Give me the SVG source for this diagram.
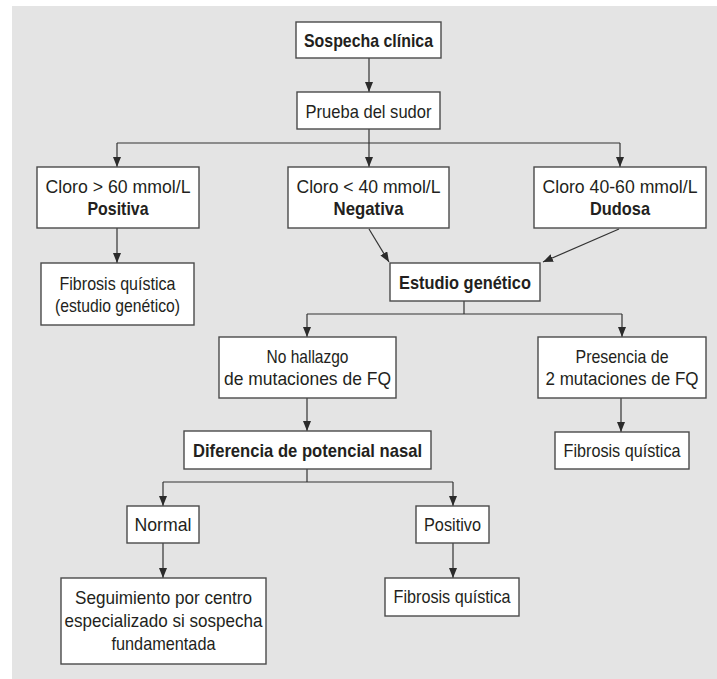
<svg xmlns="http://www.w3.org/2000/svg" width="717" height="679" viewBox="0 0 717 679">
<defs>
<marker id="ah" markerUnits="userSpaceOnUse" markerWidth="10" markerHeight="12" refX="10" refY="4" orient="auto">
<path d="M0,0 L10,4 L0,8 Z" fill="#2b2b2b"/>
</marker>
<style>
.bx{fill:#ffffff;stroke:#4a4a4a;stroke-width:1.4}
.t{font-family:"Liberation Sans",Arial,sans-serif;font-size:19px;fill:#231f20;text-anchor:middle}
.b{font-weight:bold}
.c{fill:none;stroke:#333333;stroke-width:1.2}
.ca{fill:none;stroke:#333333;stroke-width:1.2;marker-end:url(#ah)}
</style>
</defs>
<rect x="12" y="6" width="705" height="673" fill="#e4e4e4"/>
<g id="connectors">
<line class="ca" x1="369" y1="58" x2="369" y2="92"/>
<line class="c" x1="369" y1="129" x2="369" y2="143"/>
<line class="c" x1="117" y1="143" x2="620" y2="143"/>
<line class="ca" x1="117" y1="143" x2="117" y2="167"/>
<line class="ca" x1="369" y1="143" x2="369" y2="167"/>
<line class="ca" x1="620" y1="143" x2="620" y2="167"/>
<line class="ca" x1="117" y1="228" x2="117" y2="263"/>
<line class="ca" x1="369" y1="229" x2="389" y2="262"/>
<line class="ca" x1="619" y1="229" x2="543" y2="262"/>
<line class="c" x1="464" y1="301" x2="464" y2="314"/>
<line class="c" x1="307" y1="314" x2="622" y2="314"/>
<line class="ca" x1="307" y1="314" x2="307" y2="337"/>
<line class="ca" x1="622" y1="314" x2="622" y2="337"/>
<line class="ca" x1="307" y1="398" x2="307" y2="431"/>
<line class="ca" x1="621" y1="398" x2="621" y2="432"/>
<line class="c" x1="307" y1="469" x2="307" y2="482"/>
<line class="c" x1="163" y1="482" x2="453" y2="482"/>
<line class="ca" x1="163" y1="482" x2="163" y2="506"/>
<line class="ca" x1="453" y1="482" x2="453" y2="506"/>
<line class="ca" x1="163" y1="543" x2="163" y2="578"/>
<line class="ca" x1="453" y1="543" x2="453" y2="578"/>
</g>
<g id="sospecha">
<rect class="bx" x="296" y="22" width="145" height="36"/>
<text class="t b" x="368.5" y="47" textLength="129" lengthAdjust="spacingAndGlyphs">Sospecha clínica</text>
</g>
<g id="prueba">
<rect class="bx" x="297" y="92" width="143" height="37"/>
<text class="t" x="368.5" y="118" textLength="126" lengthAdjust="spacingAndGlyphs">Prueba del sudor</text>
</g>
<g id="positiva">
<rect class="bx" x="37" y="167" width="162" height="61"/>
<text class="t" x="118" y="193" textLength="145" lengthAdjust="spacingAndGlyphs">Cloro &gt; 60 mmol/L</text>
<text class="t b" x="118" y="215" textLength="61" lengthAdjust="spacingAndGlyphs">Positiva</text>
</g>
<g id="negativa">
<rect class="bx" x="288" y="167" width="161" height="61"/>
<text class="t" x="368.5" y="193" textLength="144" lengthAdjust="spacingAndGlyphs">Cloro &lt; 40 mmol/L</text>
<text class="t b" x="368.5" y="215" textLength="70" lengthAdjust="spacingAndGlyphs">Negativa</text>
</g>
<g id="dudosa">
<rect class="bx" x="534" y="167" width="172" height="61"/>
<text class="t" x="620" y="193" textLength="155" lengthAdjust="spacingAndGlyphs">Cloro 40-60 mmol/L</text>
<text class="t b" x="620" y="215" textLength="60" lengthAdjust="spacingAndGlyphs">Dudosa</text>
</g>
<g id="fq1">
<rect class="bx" x="41" y="263" width="153" height="62"/>
<text class="t" x="117.5" y="290" textLength="116" lengthAdjust="spacingAndGlyphs">Fibrosis quística</text>
<text class="t" x="117.5" y="312" textLength="125" lengthAdjust="spacingAndGlyphs">(estudio genético)</text>
</g>
<g id="estudio">
<rect class="bx" x="390" y="263" width="150" height="38"/>
<text class="t b" x="465" y="289" textLength="132" lengthAdjust="spacingAndGlyphs">Estudio genético</text>
</g>
<g id="nohallazgo">
<rect class="bx" x="219" y="337" width="177" height="61"/>
<text class="t" x="307.5" y="363" textLength="82" lengthAdjust="spacingAndGlyphs">No hallazgo</text>
<text class="t" x="307.5" y="385" textLength="167" lengthAdjust="spacingAndGlyphs">de mutaciones de FQ</text>
</g>
<g id="presencia">
<rect class="bx" x="538" y="337" width="168" height="61"/>
<text class="t" x="622" y="363" textLength="93" lengthAdjust="spacingAndGlyphs">Presencia de</text>
<text class="t" x="622" y="385" textLength="153" lengthAdjust="spacingAndGlyphs">2 mutaciones de FQ</text>
</g>
<g id="diferencia">
<rect class="bx" x="184" y="431" width="247" height="38"/>
<text class="t b" x="307.5" y="457" textLength="229" lengthAdjust="spacingAndGlyphs">Diferencia de potencial nasal</text>
</g>
<g id="fq2">
<rect class="bx" x="555" y="432" width="134" height="37"/>
<text class="t" x="622" y="457" textLength="117" lengthAdjust="spacingAndGlyphs">Fibrosis quística</text>
</g>
<g id="normal">
<rect class="bx" x="127" y="506" width="72" height="37"/>
<text class="t" x="163" y="531" textLength="57" lengthAdjust="spacingAndGlyphs">Normal</text>
</g>
<g id="positivo">
<rect class="bx" x="416" y="506" width="73" height="37"/>
<text class="t" x="452.5" y="531" textLength="57" lengthAdjust="spacingAndGlyphs">Positivo</text>
</g>
<g id="seguimiento">
<rect class="bx" x="61" y="578" width="205" height="86"/>
<text class="t" x="163.5" y="604" textLength="177" lengthAdjust="spacingAndGlyphs">Seguimiento por centro</text>
<text class="t" x="163.5" y="627" textLength="198" lengthAdjust="spacingAndGlyphs">especializado si sospecha</text>
<text class="t" x="163.5" y="650" textLength="104" lengthAdjust="spacingAndGlyphs">fundamentada</text>
</g>
<g id="fq3">
<rect class="bx" x="385" y="578" width="134" height="38"/>
<text class="t" x="452" y="603" textLength="117" lengthAdjust="spacingAndGlyphs">Fibrosis quística</text>
</g>
</svg>
